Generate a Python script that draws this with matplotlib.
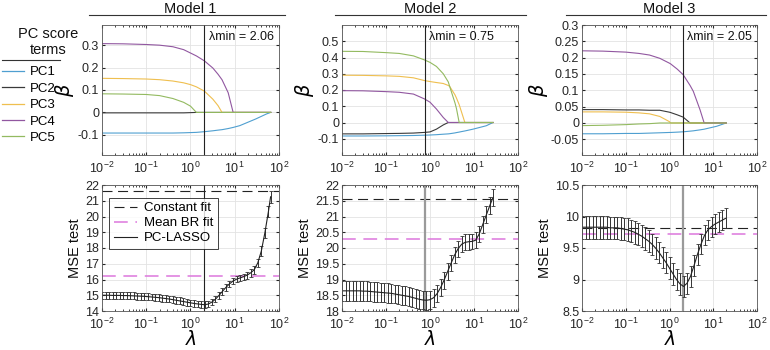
import numpy as np
import matplotlib.pyplot as plt
from matplotlib.lines import Line2D
from matplotlib.ticker import LogLocator, NullFormatter, FuncFormatter

plt.rcParams['font.family'] = ['Liberation Sans', 'DejaVu Sans']
plt.rcParams['font.size'] = 9

models = ['Model 1', 'Model 2', 'Model 3']
pc_names = ['PC1', 'PC2', 'PC3', 'PC4', 'PC5']
pc_colors = ['#4f9fd0', '#3a3a3a', '#efbf4f', '#9157a0', '#93ba60']
lam_min = [2.06, 0.75, 2.05]

# coefficient paths (beta vs lambda)
lam_b1 = [0.01, 0.03, 0.1, 0.2, 0.4, 0.7, 1.0, 1.36, 2.06, 3.2, 4.2, 5.15, 7.1, 9.2, 13, 30, 52, 65]
beta1 = [
    [-0.092, -0.092, -0.092, -0.092, -0.092, -0.091, -0.090, -0.089, -0.086, -0.082, -0.079, -0.077, -0.072, -0.067, -0.059, -0.029, -0.007, 0.0],
    [-0.002, -0.002, -0.002, -0.002, -0.002, -0.002, -0.001, 0, 0, 0, 0, 0, 0, 0, 0, 0, 0, 0],
    [0.152, 0.151, 0.149, 0.146, 0.140, 0.132, 0.124, 0.114, 0.095, 0.059, 0.030, 0, 0, 0, 0, 0, 0, 0],
    [0.307, 0.306, 0.303, 0.300, 0.293, 0.280, 0.265, 0.252, 0.230, 0.198, 0.170, 0.146, 0.088, 0, 0, 0, 0, 0],
    [0.083, 0.082, 0.080, 0.075, 0.062, 0.045, 0.028, 0, 0, 0, 0, 0, 0, 0, 0, 0, 0, 0],
]
lam_b2 = [0.01, 0.03, 0.1, 0.2, 0.42, 0.75, 1.0, 1.4, 2.0, 2.6, 2.8, 3.7, 4.0, 4.6, 5.2, 6.2, 9.5, 19, 27]
beta2 = [
    [-0.083, -0.083, -0.082, -0.081, -0.080, -0.078, -0.077, -0.075, -0.072, -0.070, -0.069, -0.064, -0.062, -0.059, -0.056, -0.052, -0.041, -0.020, 0.0],
    [-0.070, -0.070, -0.068, -0.067, -0.065, -0.061, -0.058, -0.041, -0.015, 0, 0, 0, 0, 0, 0, 0, 0, 0, 0],
    [0.291, 0.290, 0.287, 0.284, 0.275, 0.258, 0.252, 0.246, 0.240, 0.228, 0.222, 0.170, 0.150, 0.110, 0.065, 0, 0, 0, 0],
    [0.196, 0.195, 0.190, 0.186, 0.175, 0.145, 0.125, 0.083, 0.031, 0, 0, 0, 0, 0, 0, 0, 0, 0, 0],
    [0.438, 0.437, 0.430, 0.425, 0.410, 0.385, 0.370, 0.345, 0.300, 0.250, 0.222, 0.120, 0.085, 0, 0, 0, 0, 0, 0],
]
lam_b3 = [0.01, 0.03, 0.1, 0.2, 0.35, 0.6, 1.0, 1.06, 1.5, 2.05, 2.95, 3.5, 5.0, 6.2, 12, 19.7]
beta3 = [
    [-0.033, -0.033, -0.032, -0.032, -0.031, -0.030, -0.029, -0.029, -0.028, -0.027, -0.025, -0.024, -0.021, -0.019, -0.010, 0.0],
    [0.041, 0.041, 0.040, 0.040, 0.039, 0.039, 0.033, 0.032, 0.025, 0.018, 0, 0, 0, 0, 0, 0],
    [0.034, 0.034, 0.033, 0.031, 0.028, 0.020, 0.004, 0, 0, 0, 0, 0, 0, 0, 0, 0],
    [0.221, 0.220, 0.217, 0.213, 0.208, 0.198, 0.183, 0.181, 0.165, 0.148, 0.115, 0.097, 0.040, 0, 0, 0],
    [-0.008, -0.007, -0.005, -0.003, -0.002, 0, 0, 0, 0, 0, 0, 0, 0, 0, 0, 0],
]

# test MSE vs lambda (log10 lambda, mean, standard error)
loglam_m1 = [-2.00, -1.92, -1.84, -1.76, -1.68, -1.60, -1.52, -1.44, -1.36, -1.28, -1.20, -1.12, -1.04,
             -0.96, -0.88, -0.80, -0.72, -0.64, -0.56, -0.48, -0.40, -0.32, -0.24, -0.16, -0.08, 0.00,
             0.08, 0.16, 0.24, 0.32, 0.40, 0.48, 0.56, 0.64, 0.72, 0.80, 0.88, 0.96, 1.04, 1.12, 1.20,
             1.28, 1.36, 1.44, 1.52, 1.60, 1.68, 1.76, 1.81]
mse1 = [15.00, 15.00, 15.00, 14.99, 14.99, 14.99, 14.98, 14.98, 14.97, 14.96, 14.95, 14.94, 14.93,
        14.91, 14.89, 14.87, 14.85, 14.82, 14.79, 14.76, 14.72, 14.68, 14.64, 14.60, 14.56, 14.52,
        14.48, 14.45, 14.42, 14.40, 14.44, 14.56, 14.74, 14.98, 15.24, 15.50, 15.72, 15.90, 16.02,
        16.10, 16.18, 16.28, 16.42, 16.62, 17.05, 17.80, 18.95, 20.30, 21.25]
se1 = [0.22, 0.22, 0.22, 0.22, 0.22, 0.22, 0.22, 0.22, 0.22, 0.22, 0.22, 0.22, 0.22,
       0.22, 0.22, 0.22, 0.22, 0.22, 0.22, 0.22, 0.22, 0.22, 0.22, 0.22, 0.22, 0.21,
       0.21, 0.21, 0.21, 0.21, 0.21, 0.20, 0.20, 0.20, 0.20, 0.20, 0.20, 0.20, 0.20,
       0.20, 0.20, 0.22, 0.24, 0.26, 0.28, 0.30, 0.33, 0.36, 0.38]

loglam_m2 = [-2.00, -1.92, -1.84, -1.76, -1.68, -1.60, -1.52, -1.44, -1.36, -1.28, -1.20, -1.12, -1.04,
             -0.96, -0.88, -0.80, -0.72, -0.64, -0.56, -0.48, -0.40, -0.32, -0.24, -0.16, -0.08, 0.00,
             0.08, 0.16, 0.24, 0.32, 0.40, 0.48, 0.56, 0.64, 0.72, 0.80, 0.88, 0.96, 1.04, 1.12, 1.20,
             1.28, 1.36, 1.43]
mse2 = [18.64, 18.64, 18.64, 18.64, 18.64, 18.64, 18.63, 18.63, 18.62, 18.61, 18.60, 18.59, 18.58,
        18.57, 18.56, 18.54, 18.52, 18.50, 18.48, 18.46, 18.43, 18.40, 18.37, 18.35, 18.34, 18.36,
        18.42, 18.55, 18.74, 18.98, 19.25, 19.52, 19.78, 19.98, 20.12, 20.18, 20.20, 20.21, 20.25,
        20.45, 20.75, 21.05, 21.35, 21.60]
se2 = [0.31, 0.31, 0.31, 0.31, 0.31, 0.31, 0.31, 0.31, 0.31, 0.31, 0.31, 0.31, 0.31,
       0.31, 0.30, 0.30, 0.30, 0.30, 0.30, 0.30, 0.30, 0.30, 0.30, 0.30, 0.30, 0.29,
       0.28, 0.27, 0.27, 0.27, 0.27, 0.26, 0.26, 0.25, 0.25, 0.25, 0.25, 0.25, 0.25,
       0.26, 0.26, 0.27, 0.27, 0.28]

loglam_m3 = [-2.00, -1.92, -1.84, -1.76, -1.68, -1.60, -1.52, -1.44, -1.36, -1.28, -1.20, -1.12, -1.04,
             -0.96, -0.88, -0.80, -0.72, -0.64, -0.56, -0.48, -0.40, -0.32, -0.24, -0.16, -0.08, 0.00,
             0.08, 0.16, 0.24, 0.32, 0.40, 0.48, 0.56, 0.64, 0.72, 0.80, 0.88, 0.96, 1.04, 1.12, 1.20,
             1.28]
mse3 = [9.83, 9.83, 9.83, 9.83, 9.83, 9.83, 9.83, 9.83, 9.82, 9.82, 9.82, 9.81, 9.80,
        9.79, 9.77, 9.75, 9.72, 9.69, 9.65, 9.61, 9.56, 9.50, 9.43, 9.35, 9.27, 9.18,
        9.09, 9.00, 8.93, 8.89, 8.94, 9.05, 9.22, 9.40, 9.56, 9.70, 9.79, 9.84, 9.88,
        9.91, 9.94, 9.97]
se3 = [0.18, 0.18, 0.18, 0.18, 0.18, 0.18, 0.18, 0.18, 0.18, 0.18, 0.18, 0.18, 0.18,
       0.18, 0.18, 0.18, 0.18, 0.18, 0.18, 0.17, 0.17, 0.17, 0.17, 0.17, 0.17, 0.17,
       0.17, 0.17, 0.17, 0.17, 0.17, 0.17, 0.17, 0.17, 0.16, 0.16, 0.16, 0.16, 0.16,
       0.16, 0.16, 0.16]

const_fit = [21.6, 21.56, 9.82]
mean_br_fit = [16.2, 20.28, 9.73]

beta_sets = [(lam_b1, beta1), (lam_b2, beta2), (lam_b3, beta3)]
mse_sets = [(loglam_m1, mse1, se1), (loglam_m2, mse2, se2), (loglam_m3, mse3, se3)]

beta_ylim = [(-0.19, 0.39), (-0.2, 0.6), (-0.098, 0.3)]
beta_ticks = [[-0.1, 0, 0.1, 0.2, 0.3],
              [-0.1, 0, 0.1, 0.2, 0.3, 0.4, 0.5],
              [-0.05, 0, 0.05, 0.1, 0.15, 0.2, 0.25, 0.3]]
mse_ylim = [(14, 22), (18, 22), (8.5, 10.5)]
mse_ticks = [np.arange(14, 22.1, 1), np.arange(18, 22.1, 0.5), np.arange(8.5, 10.6, 0.5)]

fig = plt.figure(figsize=(7.7, 3.5), dpi=100)
lefts = [102 / 770, 342 / 770, 582 / 770]
widths = [177 / 770, 176 / 770, 175 / 770]
line_span = [(-0.075, 1.035), (-0.04, 1.045), (-0.09, 1.05)]

gray = '#262626'


def style_axis(ax):
    ax.set_xscale('log')
    ax.set_xlim(1e-2, 1e2)
    ax.xaxis.set_major_locator(LogLocator(base=10, numticks=10))
    ax.xaxis.set_minor_locator(LogLocator(base=10, subs=np.arange(2, 10), numticks=10))
    ax.xaxis.set_minor_formatter(NullFormatter())
    ax.yaxis.set_major_formatter(FuncFormatter(lambda v, p: f'{v:g}'))
    ax.grid(True, which='major', color='#e3e3e3', lw=0.6)
    ax.set_axisbelow(True)
    ax.tick_params(which='both', direction='in', top=True, right=True, colors=gray,
                   labelcolor=gray, labelsize=9, pad=2)
    ax.tick_params(axis='x', which='major', pad=4)
    ax.tick_params(which='major', length=2.5)
    ax.tick_params(which='minor', length=1.3)
    for s in ax.spines.values():
        s.set_color('#555555')
        s.set_linewidth(0.6)


for i in range(3):
    ax = fig.add_axes([lefts[i], 195 / 350, widths[i], 130 / 350])
    style_axis(ax)
    lam_b, betas = beta_sets[i]
    for j in range(5):
        ax.plot(lam_b, betas[j], color=pc_colors[j], lw=0.8)
    ax.axvline(lam_min[i], color='#222222', lw=0.8)
    ax.set_ylim(*beta_ylim[i])
    ax.set_yticks(beta_ticks[i])
    ax.set_ylabel(r'$\beta$', fontsize=14, labelpad=1, family='DejaVu Serif')
    ax.annotate(f'\u03bbmin = {lam_min[i]:.2f}', xy=(lam_min[i], 0.91),
                xycoords=('data', 'axes fraction'), xytext=(3, 0), textcoords='offset points',
                ha='left', va='center', fontsize=9, color='#111111')
    ax.set_title(models[i], fontsize=10.5, y=1.095, pad=0, color='#111111')
    ax.plot(line_span[i], [1.075, 1.075], transform=ax.transAxes, color='#333333',
            lw=0.8, clip_on=False)

for i in range(3):
    ax = fig.add_axes([lefts[i], 39 / 350, widths[i], 126 / 350])
    style_axis(ax)
    loglam, mse, se = mse_sets[i]
    lam = 10 ** np.array(loglam)
    ax.axhline(const_fit[i], color='#222222', lw=0.8, dashes=(9, 5), label='Constant fit')
    ax.axhline(mean_br_fit[i], color='#dd77dd', lw=1.1, dashes=(9, 5), label='Mean BR fit')
    if i == 0:
        ax.axvline(lam_min[i], color='#222222', lw=0.8)
    else:
        ax.axvline(lam_min[i], color='#9a9a9a', lw=1.6)
    ax.errorbar(lam, mse, yerr=se, fmt='none', ecolor='#333333', elinewidth=0.7,
                capsize=1.2, capthick=0.6)
    ax.plot(lam, mse, color='#222222', lw=0.8, label='PC-LASSO')
    ax.set_ylim(*mse_ylim[i])
    ax.set_yticks(mse_ticks[i])
    ax.set_ylabel('MSE test', fontsize=10.5, labelpad=2, color='#111111')
    ax.set_xlabel(r'$\lambda$', fontsize=13.5, labelpad=-1, family='DejaVu Serif')
    if i == 0:
        leg = ax.legend(loc='upper left', bbox_to_anchor=(0.04, 0.90), borderaxespad=0,
                        fontsize=9.5, frameon=True, fancybox=False, handlelength=1.8,
                        handletextpad=0.5, labelspacing=0.2, borderpad=0.35)
        leg.get_frame().set_edgecolor('#111111')
        leg.get_frame().set_linewidth(0.7)

# legend for the PC score terms on the left
handles = [Line2D([], [], color=c, lw=0.9) for c in pc_colors]
fig.text(48 / 770, 1 - 42 / 350, 'PC score\nterms', ha='center', va='center',
         fontsize=10.5, linespacing=1.15, color='#111111')
fig.add_artist(Line2D([2 / 770, 60 / 770], [1 - 60 / 350, 1 - 60 / 350], color='#333333', lw=0.8))
fig.legend(handles, pc_names, loc='upper left', bbox_to_anchor=(2 / 770, 1 - 66 / 350),
           frameon=False, fontsize=9.5, handlelength=1.7, handletextpad=0.45,
           labelspacing=0.32, borderaxespad=0, borderpad=0)

fig.savefig('out.png', dpi=100)
